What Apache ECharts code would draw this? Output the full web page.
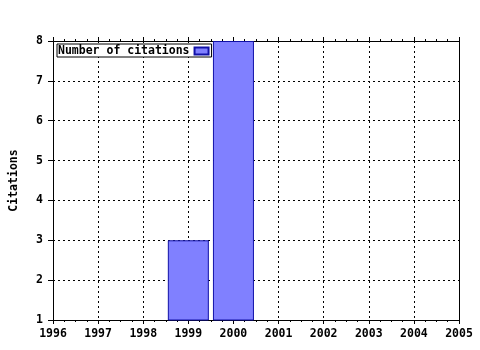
<!DOCTYPE html>
<html>
<head>
<meta charset="utf-8">
<script src="https://cdn.jsdelivr.net/npm/echarts@6/dist/echarts.min.js"></script>
<style>
html,body{margin:0;padding:0;background:#fff;}
#c{width:480px;height:350px;}
</style>
</head>
<body>
<div id="c"></div>
<script>
var years = [1999, 2000];
var citations = [3, 8];
var seriesName = 'Number of citations';
var yAxisName = 'Citations';
var xMin = 1996, xMax = 2005;
var yMin = 1, yMax = 8;

var FONT = '"DejaVu Sans Mono", monospace';
var chart = echarts.init(document.getElementById('c'), null, {renderer: 'canvas'});
var data = years.map(function (y, i) { return [y, citations[i]]; });
var gridLine = {show: true, lineStyle: {color: '#000', type: [2, 3], width: 1}};
var txt = {color: '#000', fontFamily: FONT, fontWeight: 'bold', fontSize: 11.5};

chart.setOption({
  animation: false,
  backgroundColor: '#fff',
  grid: {left: 51, right: 21, top: 41, bottom: 30, containLabel: false},
  legend: {
    show: true, left: 57, top: 44, orient: 'horizontal', align: 'right',
    itemWidth: 14, itemHeight: 7, padding: [1, 2, 0, 1],
    borderColor: '#000', borderWidth: 1, backgroundColor: '#fff',
    textStyle: Object.assign({}, txt, {lineHeight: 12}),
    data: [{name: seriesName, icon: 'rect'}], z: 4
  },
  xAxis: [{
    type: 'value', min: xMin, max: xMax, interval: 1, position: 'bottom',
    axisLine: {show: true, onZero: false, lineStyle: {color: '#000', width: 1}},
    axisTick: {show: true, inside: false, length: 4, lineStyle: {color: '#000'}},
    minorTick: {show: true, splitNumber: 4, length: 2, lineStyle: {color: '#000'}},
    axisLabel: Object.assign({margin: 8, formatter: function (v) { return String(v); }}, txt),
    splitLine: gridLine
  }, {
    type: 'value', min: xMin, max: xMax, interval: 1, position: 'top',
    axisLine: {show: true, onZero: false, lineStyle: {color: '#000', width: 1}},
    axisTick: {show: true, inside: false, length: 4, lineStyle: {color: '#000'}},
    minorTick: {show: true, splitNumber: 4, length: 2, lineStyle: {color: '#000'}},
    axisLabel: {show: false}, splitLine: {show: false}
  }],
  yAxis: [{
    type: 'value', min: yMin, max: yMax, interval: 1, position: 'left',
    name: yAxisName, nameLocation: 'middle', nameGap: 33, nameRotate: 90,
    nameTextStyle: txt,
    axisLine: {show: true, onZero: false, lineStyle: {color: '#000', width: 1}},
    axisTick: {show: true, inside: false, length: 5, lineStyle: {color: '#000'}},
    axisLabel: Object.assign({margin: 10}, txt),
    splitLine: gridLine
  }, {
    type: 'value', min: yMin, max: yMax, interval: 1, position: 'right',
    axisLine: {show: true, onZero: false, lineStyle: {color: '#000', width: 1}},
    axisTick: {show: false}, axisLabel: {show: false}, splitLine: {show: false}
  }],
  series: [{
    name: seriesName, type: 'bar', data: data, barWidth: 41, clip: true, z: 10,
    itemStyle: {color: '#8080ff', borderColor: '#1010a8', borderWidth: 1}
  }]
});
</script>
</body>
</html>
